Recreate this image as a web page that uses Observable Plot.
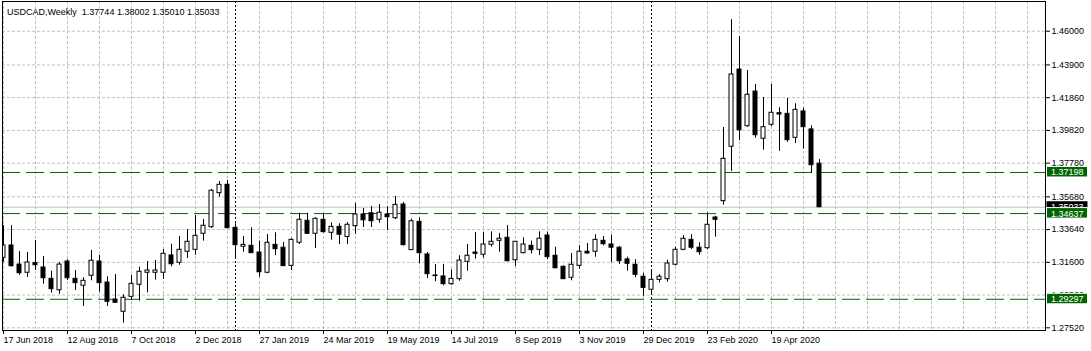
<!DOCTYPE html>
<html><head><meta charset="utf-8">
<script src="https://cdn.jsdelivr.net/npm/d3@7"></script>
<script src="https://cdn.jsdelivr.net/npm/@observablehq/plot@0.6"></script>
<style>
html,body{margin:0;padding:0;background:#fff;}
svg{display:block;}
</style></head>
<body><div id="chart"></div>
<script>
const symbol = "USDCAD,Weekly";
// weekly bars starting 17 Jun 2018
const open = [1.3188,1.3265,1.3146,1.3095,1.3155,1.3128,1.3057,1.2986,1.3165,1.3057,
1.3014,1.3076,1.3165,1.3034,1.2928,1.2852,1.2945,1.3020,1.3095,1.3095,
1.3095,1.3203,1.3157,1.3226,1.3238,1.3338,1.3379,1.3591,1.3643,1.3375,
1.3257,1.3263,1.3221,1.3095,1.3269,1.3251,1.3138,1.3282,1.3419,1.3338,
1.3425,1.3344,1.3381,1.3318,1.3385,1.3458,1.3466,1.3425,1.3458,1.3435,
1.3520,1.3236,1.3412,1.3209,1.3078,1.3072,1.3024,1.3055,1.3163,1.3221,
1.3207,1.3269,1.3294,1.3313,1.3173,1.3217,1.3263,1.3238,1.3327,1.3201,
1.3132,1.3064,1.3138,1.3226,1.3226,1.3294,1.3271,1.3251,1.3178,1.3145,
1.3070,1.2989,1.3051,1.3055,1.3145,1.3238,1.3300,1.3251,1.3248,1.3439,
1.3541,1.3880,1.4361,1.4008,1.4224,1.3930,1.4017,1.4089,1.4085,1.3936,
1.4100,1.3988,1.37744];
const high = [1.3389,1.3389,1.3227,1.3221,1.3296,1.3196,1.3105,1.3159,1.3176,1.3109,
1.3064,1.3234,1.3203,1.3070,1.3084,1.2958,1.3078,1.3130,1.3165,1.3171,
1.3240,1.3273,1.3321,1.3365,1.3452,1.3427,1.3614,1.3664,1.3670,1.3400,
1.3321,1.3375,1.3292,1.3333,1.3344,1.3284,1.3307,1.3466,1.3466,1.3437,
1.3460,1.3406,1.3400,1.3408,1.3527,1.3495,1.3508,1.3520,1.3508,1.3570,
1.3533,1.3429,1.3437,1.3221,1.3146,1.3146,1.3113,1.3201,1.3271,1.3346,
1.3346,1.3350,1.3340,1.3389,1.3288,1.3313,1.3292,1.3350,1.3348,1.3254,
1.3138,1.3215,1.3263,1.3277,1.3332,1.3321,1.3329,1.3259,1.3192,1.3176,
1.3092,1.3109,1.3084,1.3173,1.3254,1.3327,1.3333,1.3282,1.3469,1.3447,
1.4000,1.4671,1.4567,1.4355,1.4268,1.4187,1.4268,1.4123,1.4181,1.4148,
1.4120,1.4011,1.38002];
const low = [1.3161,1.3130,1.3080,1.3066,1.3109,1.3024,1.2968,1.2961,1.3047,1.2984,
1.2885,1.3045,1.2974,1.2885,1.2905,1.2781,1.2922,1.2918,1.2970,1.3049,
1.3053,1.3132,1.3142,1.3184,1.3204,1.3292,1.3371,1.3566,1.3369,1.3180,
1.3223,1.3215,1.3067,1.3089,1.3201,1.3134,1.3109,1.3271,1.3333,1.3246,
1.3342,1.3298,1.3271,1.3270,1.3333,1.3377,1.3377,1.3404,1.3358,1.3427,
1.3261,1.3236,1.3151,1.3059,1.3039,1.3014,1.3016,1.3042,1.3105,1.3180,
1.3186,1.3254,1.3223,1.3163,1.3134,1.3213,1.3213,1.3203,1.3176,1.3120,
1.3053,1.3045,1.3117,1.3211,1.3192,1.3263,1.3159,1.3148,1.3105,1.3064,
1.2949,1.2960,1.3032,1.3036,1.3138,1.3232,1.3240,1.3203,1.3238,1.3317,
1.3516,1.3726,1.3919,1.4002,1.3933,1.3859,1.4006,1.3852,1.3908,1.3900,
1.3865,1.3715,1.35010];
const close = [1.3265,1.3136,1.3092,1.3159,1.3142,1.3061,1.2993,1.3146,1.3061,1.3030,
1.3045,1.3170,1.3030,1.2914,1.2908,1.2939,1.3026,1.3101,1.3109,1.3109,
1.3213,1.3148,1.3238,1.3288,1.3325,1.3388,1.3606,1.3643,1.3373,1.3267,
1.3269,1.3217,1.3098,1.3282,1.3242,1.3136,1.3300,1.3425,1.3338,1.3431,
1.3348,1.3381,1.3332,1.3394,1.3458,1.3422,1.3416,1.3469,1.3441,1.3518,
1.3267,1.3416,1.3217,1.3086,1.3074,1.3024,1.3057,1.3171,1.3201,1.3213,
1.3271,1.3288,1.3307,1.3167,1.3288,1.3271,1.3236,1.3307,1.3192,1.3123,
1.3055,1.3145,1.3226,1.3215,1.3300,1.3273,1.3251,1.3167,1.3151,1.3082,
1.3001,1.3051,1.3070,1.3153,1.3238,1.3307,1.3251,1.3223,1.3394,1.3425,
1.3805,1.4330,1.3983,1.4204,1.3952,1.4002,1.4092,1.4081,1.3921,1.4110,
1.4002,1.3765,1.35033];

const levels = [1.37198, 1.34637, 1.29297];
const yTicks = [1.46, 1.439, 1.4186, 1.3982, 1.3778, 1.3568, 1.3364, 1.316, 1.2956, 1.2752];
const xTickIdx = [0, 8, 16, 24, 32, 40, 48, 56, 64, 72, 80, 88, 96];
const xTickLabels = ["17 Jun 2018","12 Aug 2018","7 Oct 2018","2 Dec 2018","27 Jan 2019","24 Mar 2019","19 May 2019","14 Jul 2019","8 Sep 2019","3 Nov 2019","29 Dec 2019","23 Feb 2020","19 Apr 2020"];
const yearStarts = [29, 81];

const bars = open.map((o, i) => ({i, o, h: high[i], l: low[i], c: close[i]}));
const upBars = bars.filter(d => d.c >= d.o);
const downBars = bars.filter(d => d.c < d.o);
const n = bars.length;
const last = bars[n - 1];
const fmt = d3.format(".5f");

const GRID = "#c0c0c0";
const GREEN = "#006400";

const plot = Plot.plot({
  width: 1091, height: 351,
  marginLeft: 2, marginRight: 46, marginTop: 1, marginBottom: 21,
  style: {fontFamily: "'Liberation Sans', Arial, sans-serif", fontSize: "9px", background: "#fff", color: "#000", overflow: "visible"},
  x: {type: "linear", domain: [-0.125, 130.25]},
  y: {type: "linear", domain: [1.27352, 1.47851]},
  marks: [
    Plot.ruleY(yTicks, {stroke: GRID, strokeDasharray: "3,2"}),
    Plot.ruleX(d3.range(0, 131, 4), {stroke: GRID, strokeDasharray: "3,2"}),
    Plot.ruleX(yearStarts, {stroke: "#000", strokeDasharray: "2,2"}),
    Plot.ruleY([last.c], {stroke: GRID}),
    Plot.ruleY(levels, {stroke: GREEN, strokeDasharray: "18,6"}),
    Plot.ruleX(bars, {x: "i", y1: "l", y2: "h", stroke: "#000", clip: true}),
    Plot.rect(upBars, {x1: d => d.i - 0.25, x2: d => d.i + 0.25, y1: "o", y2: "c", fill: "#fff", stroke: "#000", clip: true}),
    Plot.rect(downBars, {x1: d => d.i - 0.25, x2: d => d.i + 0.25, y1: "o", y2: "c", fill: "#000", stroke: "#000", clip: true}),
    Plot.frame({stroke: "#000"}),
    Plot.axisY(yTicks, {anchor: "right", tickSize: 4, tickPadding: 2, tickFormat: fmt, label: null, fontSize: 9, fill: "#000"}),
    Plot.axisX(xTickIdx, {anchor: "bottom", tickSize: 4, tickPadding: 2, tickFormat: d => xTickLabels[xTickIdx.indexOf(d)], textAnchor: "start", label: null, fontSize: 9, fill: "#000"})
  ]
});

const svg = d3.select(plot);
const yS = plot.scale("y");
const font = "'Liberation Sans', Arial, sans-serif";

function priceTag(v, color, border) {
  const py = yS.apply(v);
  const g = svg.append("g").attr("text-anchor", "start");
  g.append("rect").attr("x", 1046.5).attr("y", py - 5.5).attr("width", 41).attr("height", 10.5)
    .attr("fill", color).attr("stroke", border ? "#fff" : "none").attr("stroke-width", 1);
  g.append("text").attr("x", 1051).attr("y", py + 3.5).attr("fill", "#fff")
    .attr("text-anchor", "start")
    .attr("font-family", font).attr("font-size", 9).text(fmt(v));
}
priceTag(last.c, "#000", false);
levels.forEach(v => priceTag(v, GREEN, true));

svg.append("text").attr("x", 7).attr("y", 14.5)
  .attr("text-anchor", "start")
  .attr("font-family", font).attr("font-size", 9).attr("fill", "#000")
  .style("white-space", "pre")
  .text(symbol + "  " + [last.o, last.h, last.l, last.c].map(fmt).join(" "));

document.getElementById("chart").appendChild(plot);
</script>
</body></html>
